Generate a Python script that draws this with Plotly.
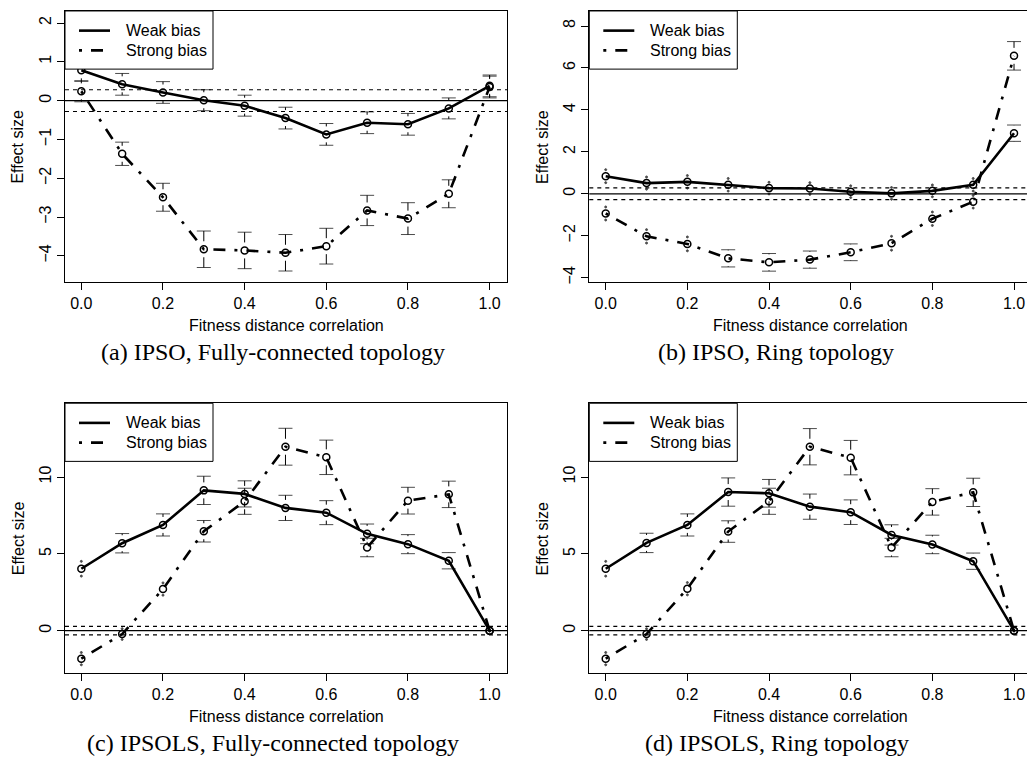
import plotly.graph_objects as go

# ---------------- data ----------------
fdc = [0.0, 0.1, 0.2, 0.3, 0.4, 0.5, 0.6, 0.7, 0.8, 0.9, 1.0]

ipso_fc_weak = [0.78, 0.42, 0.21, 0.01, -0.13, -0.45, -0.87, -0.57, -0.61, -0.20, 0.38]
ipso_fc_weak_err = [0.28, 0.28, 0.28, 0.27, 0.27, 0.28, 0.28, 0.28, 0.28, 0.27, 0.28]
ipso_fc_strong = [0.24, -1.37, -2.49, -3.83, -3.86, -3.92, -3.75, -2.83, -3.04, -2.40, 0.35]
ipso_fc_strong_err = [0.27, 0.30, 0.36, 0.47, 0.47, 0.47, 0.46, 0.39, 0.41, 0.36, 0.28]

ipso_ring_weak = [0.84, 0.51, 0.57, 0.43, 0.27, 0.25, 0.10, 0.02, 0.14, 0.43, 2.89]
ipso_ring_weak_err = [0.31, 0.29, 0.30, 0.30, 0.28, 0.28, 0.28, 0.28, 0.28, 0.30, 0.39]
ipso_ring_strong = [-0.94, -2.03, -2.39, -3.08, -3.27, -3.14, -2.79, -2.36, -1.19, -0.38, 6.58]
ipso_ring_strong_err = [0.31, 0.32, 0.33, 0.41, 0.42, 0.41, 0.40, 0.33, 0.32, 0.30, 0.68]

ipsols_fc_weak = [4.03, 5.69, 6.88, 9.13, 8.90, 7.99, 7.68, 6.30, 5.63, 4.55, 0.0]
ipsols_fc_weak_err = [0.48, 0.63, 0.72, 0.92, 0.85, 0.82, 0.78, 0.64, 0.62, 0.53, 0.02]
ipsols_fc_strong = [-1.82, -0.22, 2.71, 6.47, 8.42, 11.97, 11.28, 5.41, 8.46, 8.87, 0.0]
ipsols_fc_strong_err = [0.40, 0.35, 0.40, 0.70, 0.85, 1.20, 1.12, 0.60, 0.87, 0.86, 0.02]

ipsols_ring_weak = [4.03, 5.71, 6.88, 9.02, 8.94, 8.07, 7.71, 6.23, 5.61, 4.52, 0.0]
ipsols_ring_weak_err = [0.48, 0.63, 0.72, 0.92, 0.90, 0.82, 0.80, 0.66, 0.60, 0.53, 0.02]
ipsols_ring_strong = [-1.82, -0.22, 2.73, 6.45, 8.42, 11.97, 11.26, 5.41, 8.38, 9.00, 0.0]
ipsols_ring_strong_err = [0.40, 0.35, 0.40, 0.70, 0.85, 1.18, 1.12, 0.60, 0.86, 0.92, 0.02]

threshold = 0.28
legend_labels = ["Weak bias", "Strong bias"]
captions = ["(a) IPSO, Fully-connected topology", "(b) IPSO, Ring topology",
            "(c) IPSOLS, Fully-connected topology", "(d) IPSOLS, Ring topology"]
x_title = "Fitness distance correlation"
y_title = "Effect size"

# ---------------- style / layout ----------------
W, H = 1027, 763
SANS = "Liberation Sans, Arial, Helvetica, sans-serif"
SERIF = "Liberation Serif, Times New Roman, serif"
STRONG_DASH = "3px,9px,12px,9px"
LINE_W = 2.6
GAP_PX = 8
CAP_PX = 10

panels = [
    dict(weak=ipso_fc_weak, weak_err=ipso_fc_weak_err, strong=ipso_fc_strong, strong_err=ipso_fc_strong_err,
         box=(65, 11, 507, 283), xr=[-0.04, 1.0426], yr=[-4.68, 2.31], dtick=1, right=True, capx=273),
    dict(weak=ipso_ring_weak, weak_err=ipso_ring_weak_err, strong=ipso_ring_strong, strong_err=ipso_ring_strong_err,
         box=(589.3, 11, 1027, 283), xr=[-0.0402, 1.0318], yr=[-4.22, 8.72], dtick=2, right=False, capx=776),
    dict(weak=ipsols_fc_weak, weak_err=ipsols_fc_weak_err, strong=ipsols_fc_strong, strong_err=ipsols_fc_strong_err,
         box=(65, 404.3, 507, 675), xr=[-0.04, 1.0426], yr=[-2.77, 14.8], dtick=5, right=True, capx=273),
    dict(weak=ipsols_ring_weak, weak_err=ipsols_ring_weak_err, strong=ipsols_ring_strong, strong_err=ipsols_ring_strong_err,
         box=(589.3, 404.3, 1027, 675), xr=[-0.0402, 1.0318], yr=[-2.77, 14.8], dtick=5, right=False, capx=777),
]


def px(xp):
    return xp / W


def py(yp):
    return 1 - yp / H


fig = go.Figure()
shapes = []
annotations = []
layout_axes = {}

for i, p in enumerate(panels):
    n = i + 1
    xa = "x" if n == 1 else f"x{n}"
    ya = "y" if n == 1 else f"y{n}"
    l, t, r, b = p["box"]
    px_per_unit = (b - t) / (p["yr"][1] - p["yr"][0])
    gap = GAP_PX / px_per_unit

    for vals, errs, dash in [(p["weak"], p["weak_err"], "solid"), (p["strong"], p["strong_err"], STRONG_DASH)]:
        # error bars (gplots plotCI style: gap around the point, caps at the ends)
        ys, up, dn, sym, sz = [], [], [], [], []
        xs = fdc + fdc
        for v, e in zip(vals, errs):
            stub = max(e - gap, 0)
            ys.append(v + e); up.append(0); dn.append(stub)
            sym.append("line-ew-open" if stub > 0 else "circle"); sz.append(CAP_PX if stub > 0 else 2)
        for v, e in zip(vals, errs):
            stub = max(e - gap, 0)
            ys.append(v - e); up.append(stub); dn.append(0)
            sym.append("line-ew-open" if stub > 0 else "circle"); sz.append(CAP_PX if stub > 0 else 2)
        fig.add_trace(go.Scatter(
            x=xs, y=ys, mode="markers", xaxis=xa, yaxis=ya, showlegend=False, hoverinfo="skip",
            marker=dict(symbol=sym, size=sz, color="black", line=dict(color="black", width=1)),
            error_y=dict(type="data", symmetric=False, array=up, arrayminus=dn,
                         width=0, thickness=1, color="black"),
        ))
        fig.add_trace(go.Scatter(
            x=fdc, y=vals, mode="lines+markers", xaxis=xa, yaxis=ya, showlegend=False,
            line=dict(color="black", width=LINE_W, dash=dash),
            marker=dict(symbol="circle-open", size=7, color="black", line=dict(color="black", width=1.5)),
        ))

    # reference lines
    shapes.append(dict(type="line", xref=f"{xa} domain", yref=ya, x0=0, x1=1, y0=0, y1=0,
                       line=dict(color="black", width=1.2)))
    for s in (threshold, -threshold):
        shapes.append(dict(type="line", xref=f"{xa} domain", yref=ya, x0=0, x1=1, y0=s, y1=s,
                           line=dict(color="black", width=1.2, dash="4px,4px")))

    # axes
    axis_common = dict(showgrid=False, zeroline=False, showline=True, linecolor="black", linewidth=1,
                       ticks="outside", ticklen=7, tickwidth=1, tickcolor="black",
                       tickfont=dict(family=SANS, size=16, color="black"))
    layout_axes["xaxis" if n == 1 else f"xaxis{n}"] = dict(
        axis_common, domain=[px(l), px(r)], range=p["xr"], anchor=ya, mirror=True,
        tick0=0, dtick=0.2, tickformat=".1f")
    layout_axes["yaxis" if n == 1 else f"yaxis{n}"] = dict(
        axis_common, domain=[py(b), py(t)], range=p["yr"], anchor=xa, mirror=p["right"],
        tick0=0, dtick=p["dtick"], tickangle=-90)

    # axis titles
    annotations.append(dict(text=y_title, xref="paper", yref="paper", x=px(l - 47), y=py((t + b) / 2),
                            textangle=-90, showarrow=False, xanchor="center", yanchor="middle",
                            font=dict(family=SANS, size=16, color="black")))
    annotations.append(dict(text=x_title, xref="paper", yref="paper", x=px(l + 221), y=py(b + 43.5),
                            showarrow=False, xanchor="center", yanchor="middle",
                            font=dict(family=SANS, size=16, color="black")))
    annotations.append(dict(text=captions[i], xref="paper", yref="paper", x=px(p["capx"]), y=py(b + 70),
                            showarrow=False, xanchor="center", yanchor="middle",
                            font=dict(family=SERIF, size=24, color="black")))

    # legend box (top-left corner of each panel)
    shapes.append(dict(type="rect", xref="paper", yref="paper", x0=px(l), x1=px(l + 148),
                       y0=py(t + 58.3), y1=py(t), line=dict(color="black", width=1), fillcolor="white",
                       layer="above"))
    for k, (lab, dash) in enumerate(zip(legend_labels, ["solid", STRONG_DASH])):
        yy = t + 19.7 + k * 19.8
        shapes.append(dict(type="line", xref="paper", yref="paper", x0=px(l + 14), x1=px(l + 45),
                           y0=py(yy), y1=py(yy), line=dict(color="black", width=LINE_W, dash=dash),
                           layer="above"))
        annotations.append(dict(text=lab, xref="paper", yref="paper", x=px(l + 59), y=py(yy),
                                showarrow=False, xanchor="left", yanchor="middle",
                                font=dict(family=SANS, size=16, color="black")))

fig.update_layout(
    width=W, height=H, margin=dict(l=0, r=0, t=0, b=0),
    paper_bgcolor="white", plot_bgcolor="white",
    showlegend=False, shapes=shapes, annotations=annotations, **layout_axes,
)

fig.write_html("out.html")
